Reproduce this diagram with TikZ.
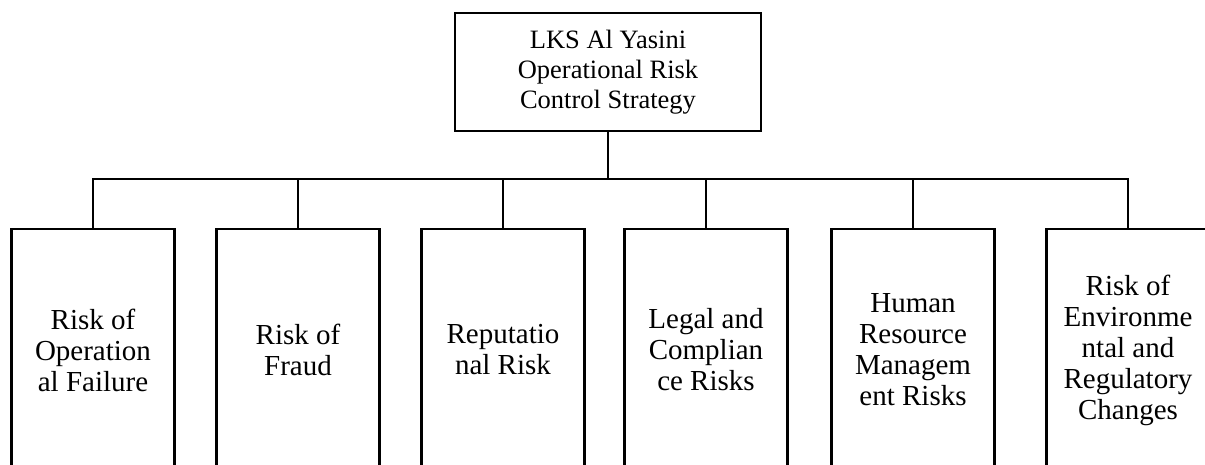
\documentclass[tikz,border=0pt]{standalone}
\usepackage{fontspec}
\setmainfont{Liberation Serif}
\usepackage{tikz}
\usetikzlibrary{positioning}
\tikzset{
    topbox/.style={
        draw,
        line width=2.6pt,
        align=center,
        minimum height=118pt,
        minimum width=306pt,
        font=\fontsize{26.5}{30}\selectfont
    },
    riskbox/.style={
        draw,
        line width=2.6pt,
        align=center,
        minimum height=242pt,
        minimum width=163pt,
        inner sep=0pt,
        font=\fontsize{29}{31}\selectfont
    },
    link/.style={line width=2.6pt}
}

\begin{document}
\begin{tikzpicture}[x=1pt,y=-1pt]
        \clip (0,0) rectangle (1205,465);
        \node[topbox] (top) at (608,72) {LKS Al Yasini\\Operational Risk\\Control Strategy};
        \coordinate (bus) at (608,179);

        \node[riskbox] (r1) at (93,350) {Risk of\\Operation\\al Failure};
        \node[riskbox] (r2) at (298,350) {Risk of\\Fraud};
        \node[riskbox] (r3) at (503,350) {Reputatio\\nal Risk};
        \node[riskbox] (r4) at (706,350) {Legal and\\Complian\\ce Risks};
        \node[riskbox] (r5) at (913,350) {Human\\Resource\\Managem\\ent Risks};
        \node[riskbox] (r6) at (1128,350) {Risk of\\Environme\\ntal and\\Regulatory\\Changes};

        \draw[link] (top.south) -- (bus);
        \foreach \r in {r1,r2,r3,r4,r5,r6}
            \draw[link] (bus) -| (\r.north);
    \end{tikzpicture}
\end{document}
